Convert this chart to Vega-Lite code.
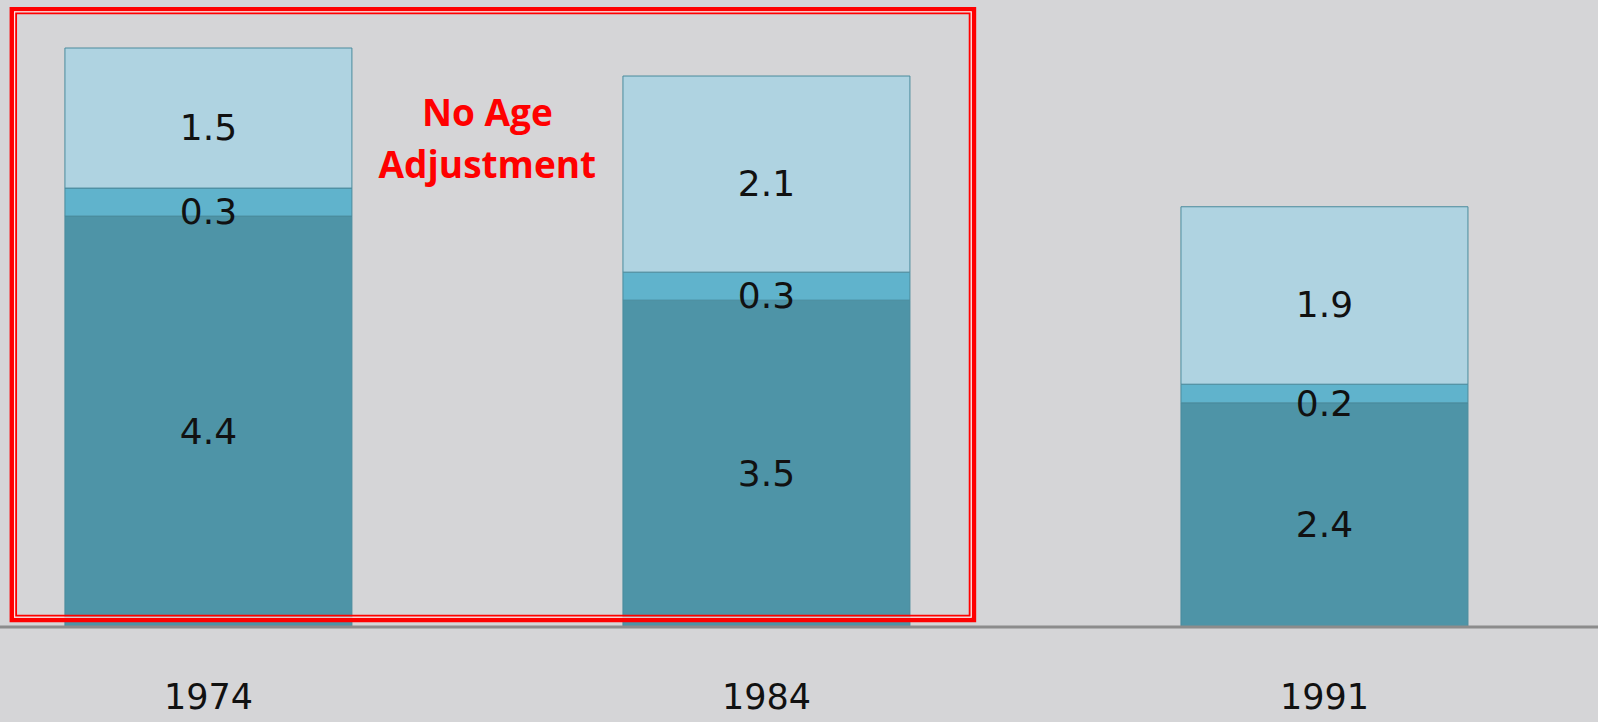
{
  "$schema": "https://vega.github.io/schema/vega-lite/v6.json",
  "width": 1598,
  "height": 627,
  "autosize": {"type": "none"},
  "padding": {"left": 0, "right": 0, "top": 0, "bottom": 95},
  "background": "#d5d5d7",
  "config": {"view": {"stroke": null}},
  "datasets": {
    "main": [
      {"year": "1974", "seg": "A", "ord": 1, "v": 4.4},
      {"year": "1974", "seg": "B", "ord": 2, "v": 0.3},
      {"year": "1974", "seg": "C", "ord": 3, "v": 1.5},
      {"year": "1984", "seg": "A", "ord": 1, "v": 3.5},
      {"year": "1984", "seg": "B", "ord": 2, "v": 0.3},
      {"year": "1984", "seg": "C", "ord": 3, "v": 2.1},
      {"year": "1991", "seg": "A", "ord": 1, "v": 2.4},
      {"year": "1991", "seg": "B", "ord": 2, "v": 0.2},
      {"year": "1991", "seg": "C", "ord": 3, "v": 1.9}
    ],
    "note": [{"label": ["No Age", "Adjustment"]}]
  },
  "layer": [
    {
      "data": {"name": "main"},
      "mark": {"type": "bar", "stroke": "#4a8b9d", "strokeWidth": 1},
      "encoding": {
        "x": {
          "field": "year", "type": "nominal", "title": null,
          "scale": {"paddingInner": 0.4857, "paddingOuter": 0.1747, "align": 0.333},
          "axis": {"ticks": false, "domain": false, "labelFont": "DejaVu Sans", "labelFontSize": 35, "labelColor": "#111111", "labelAngle": 0, "labelBaseline": "alphabetic", "labelPadding": 81}
        },
        "y": {
          "field": "v", "type": "quantitative", "stack": "zero",
          "scale": {"domain": [0, 6.714], "nice": false},
          "axis": null
        },
        "color": {
          "field": "seg", "type": "nominal", "legend": null,
          "scale": {"domain": ["A", "B", "C"], "range": ["#4e94a7", "#60b3cc", "#afd3e1"]}
        },
        "order": {"field": "ord", "type": "quantitative"}
      }
    },
    {
      "data": {"name": "main"},
      "transform": [
        {"stack": "v", "groupby": ["year"], "sort": [{"field": "ord"}], "as": ["v0", "v1"]},
        {"calculate": "(datum.v0 + datum.v1) / 2", "as": "mid"}
      ],
      "mark": {"type": "text", "font": "DejaVu Sans", "fontSize": 36, "color": "#111111", "baseline": "middle", "dy": 11},
      "encoding": {
        "x": {"field": "year", "type": "nominal"},
        "y": {"field": "mid", "type": "quantitative"},
        "text": {"field": "v", "type": "quantitative", "format": ".1f"}
      }
    },
    {
      "data": {"name": "note"},
      "mark": {"type": "rule", "color": "#8c8c8c", "strokeWidth": 3},
      "encoding": {"y": {"datum": 0}}
    },
    {
      "data": {"name": "note"},
      "mark": {"type": "rect", "fill": null, "stroke": "#ff0000", "strokeWidth": 4.5},
      "encoding": {
        "x": {"datum": "1974", "bandPosition": -0.185},
        "x2": {"datum": "1984", "bandPosition": 1.223},
        "y": {"datum": 6.616},
        "y2": {"datum": 0.075}
      }
    },
    {
      "data": {"name": "note"},
      "mark": {"type": "rect", "fill": null, "stroke": "#ffe6e6", "strokeWidth": 1.3, "xOffset": 2.8, "x2Offset": -2.8, "yOffset": 2.8, "y2Offset": -2.8},
      "encoding": {
        "x": {"datum": "1974", "bandPosition": -0.185},
        "x2": {"datum": "1984", "bandPosition": 1.223},
        "y": {"datum": 6.616},
        "y2": {"datum": 0.075}
      }
    },
    {
      "data": {"name": "note"},
      "mark": {"type": "rect", "fill": null, "stroke": "#ff0000", "strokeWidth": 1.8, "xOffset": 4.3, "x2Offset": -4.3, "yOffset": 4.3, "y2Offset": -4.3},
      "encoding": {
        "x": {"datum": "1974", "bandPosition": -0.185},
        "x2": {"datum": "1984", "bandPosition": 1.223},
        "y": {"datum": 6.616},
        "y2": {"datum": 0.075}
      }
    },
    {
      "data": {"name": "note"},
      "mark": {"type": "text", "font": "Open Sans", "fontWeight": "bold", "fontSize": 37, "color": "#ff0000", "align": "center", "baseline": "middle", "lineHeight": 52},
      "encoding": {
        "x": {"datum": "1974", "bandPosition": 1.472},
        "y": {"datum": 5.482},
        "text": {"field": "label"}
      }
    }
  ]
}
